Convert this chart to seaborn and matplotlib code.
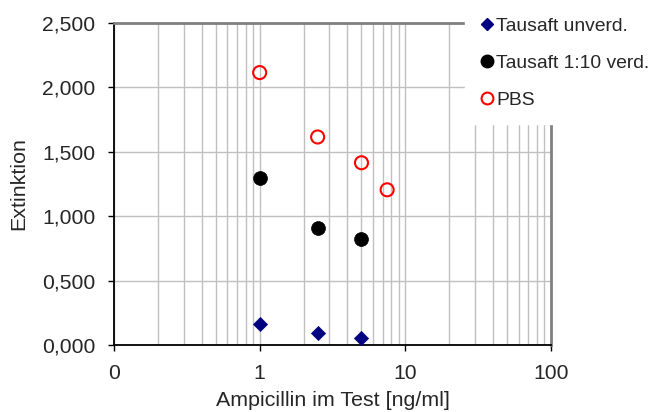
import matplotlib
matplotlib.use("Agg")
import matplotlib.pyplot as plt
import matplotlib.ticker as mticker
import seaborn as sns
import pandas as pd
from matplotlib.lines import Line2D

# ---- data ----
series_names = ["Tausaft unverd.", "Tausaft 1:10 verd.", "PBS"]
x_unverd = [1, 2.5, 5]
y_unverd = [0.165, 0.090, 0.055]
x_verd = [1, 2.5, 5]
y_verd = [1.300, 0.905, 0.820]
x_pbs = [1, 2.5, 5, 7.5]
y_pbs = [2.115, 1.615, 1.415, 1.205]
x_ticks = [0.1, 1, 10, 100]
x_tick_labels = ["0", "1", "10", "100"]
y_ticks = [0.0, 0.5, 1.0, 1.5, 2.0, 2.5]

sns.set_style("white")
plt.rcParams["font.family"] = ["Liberation Sans", "DejaVu Sans"]
FS_TICK = 15.2
FS_LABEL = 15.4
FS_LEG = 13.9

fig = plt.figure(figsize=(6.56, 4.12), dpi=100)
ax = fig.add_axes([114/656, 1-345/412, (551-114)/656, (345-23)/412])

df_u = pd.DataFrame({"x": x_unverd, "y": y_unverd})
df_v = pd.DataFrame({"x": x_verd, "y": y_verd})
df_p = pd.DataFrame({"x": x_pbs, "y": y_pbs})

sns.scatterplot(data=df_u, x="x", y="y", ax=ax, marker="D", s=52,
                color="#000080", edgecolor="#000080", linewidth=0.5, zorder=3)
sns.scatterplot(data=df_v, x="x", y="y", ax=ax, marker="o", s=100,
                color="black", edgecolor="black", linewidth=0.5, zorder=3)
sns.scatterplot(data=df_p, x="x", y="y", ax=ax, marker="o", s=88,
                facecolor="none", edgecolor="#ff0000", linewidth=1.5, zorder=3)

ax.set_xscale("log")
ax.set_xlim(0.1, 100)
ax.set_ylim(0, 2.5)
ax.xaxis.set_major_locator(mticker.FixedLocator(x_ticks))
ax.xaxis.set_major_formatter(mticker.FixedFormatter(x_tick_labels))
ax.xaxis.set_minor_locator(mticker.LogLocator(base=10, subs=range(2, 10)))
ax.xaxis.set_minor_formatter(mticker.NullFormatter())
ax.yaxis.set_major_locator(mticker.FixedLocator(y_ticks))
ax.yaxis.set_major_formatter(mticker.FuncFormatter(lambda v, p: f"{v:.3f}".replace(".", ",")))

ax.grid(True, which="both", axis="x", color="#c0c0c0", linewidth=1)
ax.grid(True, which="major", axis="y", color="#c0c0c0", linewidth=1)
ax.set_axisbelow(True)

ax.tick_params(axis="both", which="major", direction="out", length=4.5, width=1,
               color="black", labelsize=FS_TICK, left=True, bottom=True)
ax.tick_params(axis="y", pad=9)
ax.tick_params(axis="x", pad=9)
ax.tick_params(axis="x", which="minor", length=0)

for s in ["left", "bottom"]:
    ax.spines[s].set_color("black")
    ax.spines[s].set_linewidth(1.3)
for s in ["top", "right"]:
    ax.spines[s].set_color("#808080")
    ax.spines[s].set_linewidth(2)

ax.set_xlabel("Ampicillin im Test [ng/ml]", fontsize=FS_LABEL, labelpad=6)
ax.set_ylabel("Extinktion", fontsize=FS_LABEL, labelpad=10)

handles = [
    Line2D([], [], linestyle="none", marker="D", markersize=6.5, color="#000080"),
    Line2D([], [], linestyle="none", marker="o", markersize=9, color="black"),
    Line2D([], [], linestyle="none", marker="o", markersize=8.5, markerfacecolor="none",
           markeredgecolor="#ff0000", markeredgewidth=1.5),
]
leg = fig.legend(handles, series_names, loc="upper left",
                 bbox_to_anchor=(465/656, 1.0 - 2/412),
                 frameon=True, facecolor="white", edgecolor="white", framealpha=1,
                 fancybox=False, fontsize=FS_LEG, handlelength=0.7, handletextpad=0.1,
                 labelspacing=1.0, borderpad=0.8, borderaxespad=0)
leg.set_zorder(10)

fig.savefig("out.png", dpi=100)
